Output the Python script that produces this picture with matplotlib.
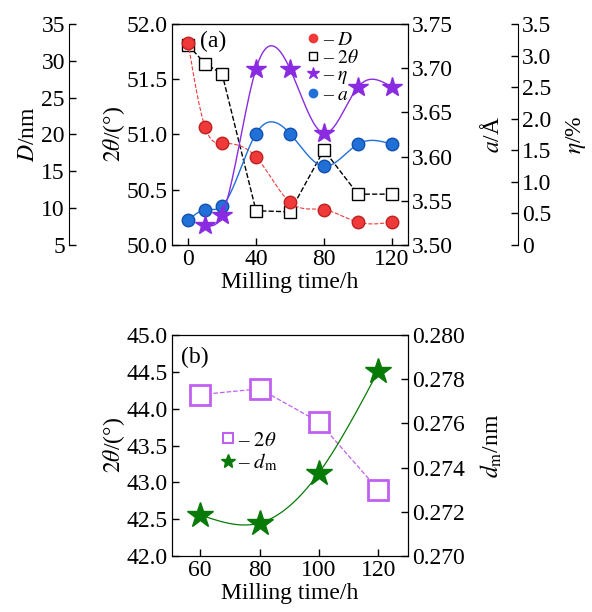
import numpy as np
import matplotlib
matplotlib.use("Agg")
import matplotlib.pyplot as plt
from matplotlib.lines import Line2D

plt.rcParams['font.family'] = 'Liberation Serif'
plt.rcParams['mathtext.fontset'] = 'stix'
plt.rcParams['font.size'] = 17

# ---- data (a)
t_a = [0, 10, 20, 40, 60, 80, 100, 120]
D_nm = [32.4, 21.0, 18.8, 16.95, 10.8, 9.8, 8.1, 8.1]
theta_a = [51.81, 51.64, 51.55, 50.31, 50.30, 50.86, 50.46, 50.46]
t_eta = [10, 20, 40, 60, 80, 100, 120]
eta = [0.32, 0.475, 2.79, 2.79, 1.77, 2.50, 2.50]
a_ang = [3.528, 3.540, 3.544, 3.626, 3.626, 3.589, 3.614, 3.614]

# ---- data (b)
t_b = [60, 80, 100, 120]
theta_b = [44.19, 44.27, 43.82, 42.90]
d_m = [0.27186, 0.27149, 0.27376, 0.27837]


def spline(x, y, n=300):
    # natural cubic spline, just for the smooth guide lines
    x = np.asarray(x, float)
    y = np.asarray(y, float)
    h = np.diff(x)
    m = len(x)
    A = np.zeros((m, m))
    r = np.zeros(m)
    A[0, 0] = A[-1, -1] = 1
    for i in range(1, m - 1):
        A[i, i - 1] = h[i - 1]
        A[i, i] = 2 * (h[i - 1] + h[i])
        A[i, i + 1] = h[i]
        r[i] = 3 * ((y[i + 1] - y[i]) / h[i] - (y[i] - y[i - 1]) / h[i - 1])
    c = np.linalg.solve(A, r)
    xs = np.linspace(x[0], x[-1], n)
    k = np.clip(np.searchsorted(x, xs) - 1, 0, m - 2)
    dx = xs - x[k]
    b = (y[k + 1] - y[k]) / h[k] - h[k] * (2 * c[k] + c[k + 1]) / 3
    d = (c[k + 1] - c[k]) / (3 * h[k])
    return xs, y[k] + b * dx + c[k] * dx ** 2 + d * dx ** 3


red = '#f03a3a'
blue = '#2070d8'
purple = '#8a2be2'
lilac = '#c060f0'
green = '#087a08'

fig = plt.figure(figsize=(5.92, 6.12), dpi=100)
ax = fig.add_axes([0.2905, 0.5997, 0.3986, 0.3611])
axD = ax.twinx()
axA = ax.twinx()
axE = ax.twinx()

# D on far left spine
axD.spines['left'].set_visible(True)
axD.spines['left'].set_position(('axes', -0.436))
axD.spines['right'].set_visible(False)
axD.yaxis.set_ticks_position('left')
axD.yaxis.set_label_position('left')
axE.spines['right'].set_position(('axes', 1.466))
for s in ['top', 'bottom', 'left']:
    axE.spines[s].set_visible(False)

ax.plot(t_a, theta_a, '--', color='k', lw=1, marker='s', ms=8, mfc='white', mec='k', mew=1)
xs, ys = spline(t_a, D_nm)
axD.plot(xs, ys, '--', color=red, lw=0.8)
axD.plot(t_a, D_nm, 'o', color=red, ms=9, mec='#c02020')
xs, ys = spline(t_a, a_ang)
axA.plot(xs, ys, '-', color=blue, lw=1)
axA.plot(t_a, a_ang, 'o', color=blue, ms=9, mec='#1050b0')
xs, ys = spline(t_eta, eta)
axE.plot(xs, ys, '-', color=purple, lw=1)
axE.plot(t_eta, eta, '*', color=purple, ms=15)

ax.set_xlim(-9.5, 129.5)
ax.set_ylim(50.0, 52.0)
ax.set_yticks(np.arange(50.0, 52.01, 0.5))
ax.set_yticklabels(['%.1f' % v for v in np.arange(50.0, 52.01, 0.5)])
ax.set_xticks([0, 40, 80, 120])
axD.set_ylim(5, 35)
axD.set_yticks(range(5, 36, 5))
axA.set_ylim(3.50, 3.75)
axA.set_yticks(np.arange(3.50, 3.751, 0.05))
axA.set_yticklabels(['%.2f' % v for v in np.arange(3.50, 3.751, 0.05)])
axE.set_ylim(0, 3.5)
axE.set_yticks(np.arange(0, 3.51, 0.5))
axE.set_yticklabels(['0'] + ['%.1f' % v for v in np.arange(0.5, 3.51, 0.5)])

for a_ in [ax, axD, axA, axE]:
    a_.tick_params(direction='in', length=5, width=1, pad=3)
ax.set_xlabel('Milling time/h', labelpad=1)
ax.set_ylabel(r'$2\theta$/(°)', labelpad=0)
axD.set_ylabel(r'$D$/nm', labelpad=2)
axA.set_ylabel(r'$a$/Å', labelpad=20)
axE.set_ylabel(r'$\eta$/%', labelpad=9)
ax.text(0.12, 0.92, '(a)', transform=ax.transAxes, va='center')

hs = [Line2D([], [], ls='none', marker='o', color=red, ms=6),
      Line2D([], [], ls='none', marker='s', mfc='white', mec='k', ms=6),
      Line2D([], [], ls='none', marker='*', color=purple, ms=9),
      Line2D([], [], ls='none', marker='o', color=blue, ms=6)]
labs = [r'– $D$', r'– $2\theta$', r'– $\eta$', r'– $a$']
axE.legend(hs, labs, loc='upper right', bbox_to_anchor=(0.85, 1.03), frameon=False,
           fontsize=14, handlelength=0.6, handletextpad=0.2, labelspacing=0.0, borderpad=0.2)

# ---- panel (b)
bx = fig.add_axes([0.2905, 0.0915, 0.3986, 0.3611])
bx2 = bx.twinx()
bx.plot(t_b, theta_b, '--', color=lilac, lw=0.9, marker='s', ms=14, mfc='white', mec=lilac, mew=2)
xs, ys = spline(t_b, d_m)
bx2.plot(xs, ys, '-', color=green, lw=0.9)
bx2.plot(t_b, d_m, '*', color=green, ms=19)
bx.set_xlim(50.5, 130)
bx.set_xticks([60, 80, 100, 120])
bx.set_ylim(42.0, 45.0)
bx.set_yticks(np.arange(42.0, 45.01, 0.5))
bx.set_yticklabels(['%.1f' % v for v in np.arange(42.0, 45.01, 0.5)])
bx2.set_ylim(0.270, 0.280)
bx2.set_yticks(np.arange(0.270, 0.2801, 0.002))
bx2.set_yticklabels(['%.3f' % v for v in np.arange(0.270, 0.2801, 0.002)])
for a_ in [bx, bx2]:
    a_.tick_params(direction='in', length=5, width=1, pad=3)
bx.set_xlabel('Milling time/h', labelpad=1)
bx.set_ylabel(r'$2\theta$/(°)', labelpad=0)
bx2.set_ylabel(r'$d_{\rm m}$/nm', labelpad=10)
bx.text(0.04, 0.9, '(b)', transform=bx.transAxes, va='center')
hb = [Line2D([], [], ls='none', marker='s', mfc='white', mec=lilac, mew=1.5, ms=7),
      Line2D([], [], ls='none', marker='*', color=green, ms=10)]
bx.legend(hb, [r'– $2\theta$', r'– $d_{\rm m}$'], loc='center left', bbox_to_anchor=(0.13, 0.47),
          frameon=False, fontsize=15, handlelength=0.6, handletextpad=0.2, labelspacing=0.05)

fig.savefig('out.png', dpi=100)
